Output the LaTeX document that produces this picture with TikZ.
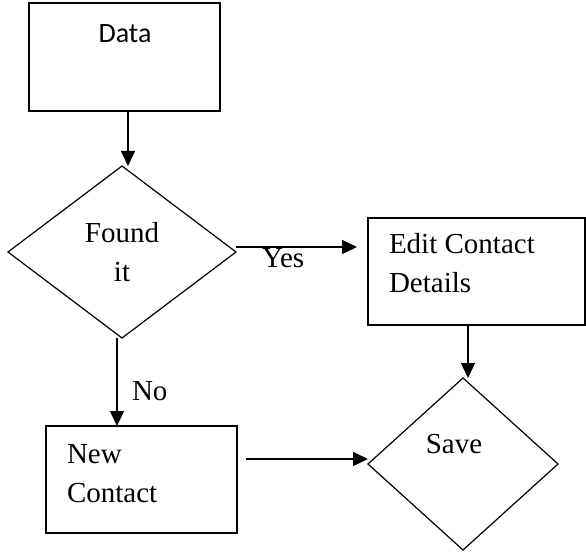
\documentclass[tikz,border=0pt]{standalone}
\usepackage{fontspec}
\setmainfont{Liberation Serif}
\newfontfamily\calib{Carlito}
\usepackage{tikz}
\usetikzlibrary{calc,arrows.meta,shapes.geometric}
\tikzset{
  box/.style={draw,line width=1.4pt,inner sep=0pt,outer sep=0pt},
  dia/.style={draw,diamond,line width=1.2pt,inner sep=0pt,outer sep=0pt,align=center},
  txt/.style={inner sep=0pt,outer sep=0pt,align=left},
  arr/.style={line width=1.4pt,-{Triangle[length=15pt,width=14pt]}}
}
\begin{document}
\begin{tikzpicture}[x=1pt,y=-1pt,font=\fontsize{29}{39}\selectfont]
                      \useasboundingbox (0,0) rectangle (586,556);
                      \node[box,minimum width=191pt,minimum height=108pt](data)at(124.5,57){};
                      \node[txt,anchor=base,font=\calib\fontsize{28}{39}\selectfont](datat)at(125,43){Data};
                      \node[dia,minimum width=228pt,minimum height=172pt](found)at(122,252){Found\\it};
                      \node[box,minimum width=217pt,minimum height=107pt](edit)at(476.5,271.5){};
                      \node[txt,anchor=base west](editt)at(389,292){Edit Contact\\Details};
                      \node[box,minimum width=191pt,minimum height=107pt](new)at(141.5,479.5){};
                      \node[txt,anchor=base west](newt)at(67,502){New\\Contact};
                      \node[dia,minimum width=190pt,minimum height=172pt](save)at(463,464){};
                      \node[txt,anchor=base](savet)at(454,453){Save};
                      \node[txt,anchor=base west](yes)at(262,267){Yes};
                      \node[txt,anchor=base west](no)at(132,400){No};
                      \draw[arr] ([xshift=3.5pt]data.south) -- ([xshift=6pt]found.north);
                      \draw[arr] ([yshift=5pt]found.east) -- ([xshift=-11pt,yshift=24.5pt]edit.west);
                      \draw[arr] ([xshift=-5pt]found.south) -- ([xshift=-24.5pt]new.north);
                      \draw[arr] ([xshift=-8.5pt]edit.south) -- ([xshift=5pt]save.north);
                      \draw[arr] ([xshift=9pt,yshift=20.5pt]new.east) -- ([yshift=5pt]save.west);
                  \end{tikzpicture}
\end{document}
